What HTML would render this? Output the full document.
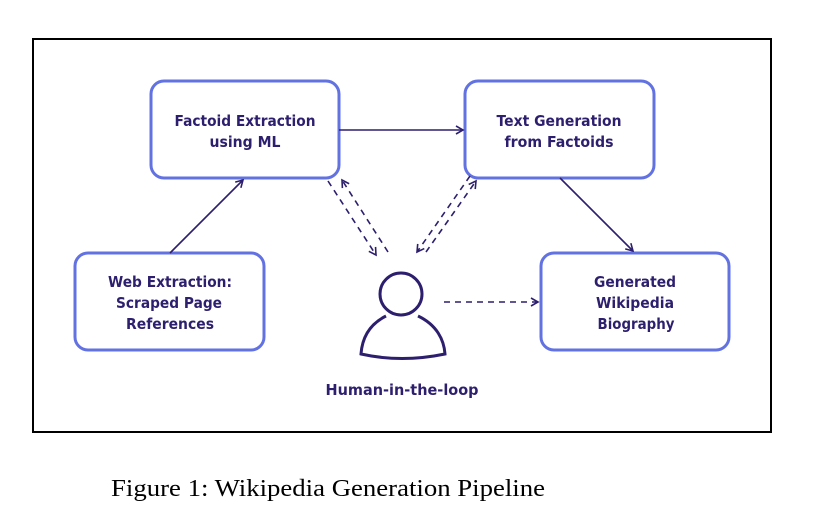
<!DOCTYPE html>
<html><head><meta charset="utf-8"><style>
html,body{margin:0;padding:0;background:#fff;width:828px;height:528px;overflow:hidden}
svg{display:block}
.t{font-family:"DejaVu Sans","Liberation Sans",sans-serif;font-size:15px;font-weight:bold;fill:#2e1f6e;text-anchor:middle}
</style></head><body>
<svg width="828" height="528" viewBox="0 0 828 528" xmlns="http://www.w3.org/2000/svg">
<defs>
<marker id="a" markerWidth="10" markerHeight="10" refX="8" refY="5" orient="auto" markerUnits="userSpaceOnUse">
<path d="M1,1 L8,5 L1,9" fill="none" stroke="#2e1f6e" stroke-width="1.6"/>
</marker>
</defs>
<rect x="33" y="39" width="738" height="393" fill="none" stroke="#000" stroke-width="2"/>
<g fill="#fff" stroke="#6272e0" stroke-width="3">
<rect x="151" y="81" width="188" height="97" rx="13"/>
<rect x="465" y="81" width="189" height="97" rx="13"/>
<rect x="75" y="253" width="189" height="97" rx="13"/>
<rect x="541" y="253" width="188" height="97" rx="13"/>
</g>
<g stroke="#2e1f6e" stroke-width="1.6" fill="none" marker-end="url(#a)">
<line x1="339" y1="130" x2="463" y2="130"/>
<line x1="170" y1="253" x2="243" y2="180"/>
<line x1="560" y1="178" x2="633" y2="251"/>
<g stroke-dasharray="6,5">
<line x1="328" y1="181" x2="376" y2="255"/>
<line x1="388" y1="252" x2="342" y2="180"/>
<line x1="470" y1="176" x2="417" y2="252"/>
<line x1="426" y1="252" x2="476" y2="181"/>
<line x1="444" y1="302" x2="538" y2="302"/>
</g>
</g>
<g stroke="#2e1f6e" stroke-width="3" fill="none">
<circle cx="401" cy="294" r="21"/>
<path d="M386,316 C368,325 362,340 361,354 C388,360 416,360 445,354 C444,340 437,325 418,316"/>
</g>
<g class="t">
<text class="t" x="245" y="126" textLength="141" lengthAdjust="spacingAndGlyphs">Factoid Extraction</text>
<text class="t" x="245" y="147" textLength="71" lengthAdjust="spacingAndGlyphs">using ML</text>
<text class="t" x="559" y="126" textLength="125" lengthAdjust="spacingAndGlyphs">Text Generation</text>
<text class="t" x="559" y="147" textLength="109" lengthAdjust="spacingAndGlyphs">from Factoids</text>
<text class="t" x="170" y="287" textLength="124" lengthAdjust="spacingAndGlyphs">Web Extraction:</text>
<text class="t" x="169" y="308" textLength="106" lengthAdjust="spacingAndGlyphs">Scraped Page</text>
<text class="t" x="170" y="329" textLength="88" lengthAdjust="spacingAndGlyphs">References</text>
<text class="t" x="635" y="287" textLength="82" lengthAdjust="spacingAndGlyphs">Generated</text>
<text class="t" x="635" y="308" textLength="78" lengthAdjust="spacingAndGlyphs">Wikipedia</text>
<text class="t" x="636" y="329" textLength="77" lengthAdjust="spacingAndGlyphs">Biography</text>
<text class="t" x="402" y="395" textLength="153" lengthAdjust="spacingAndGlyphs">Human-in-the-loop</text>
</g>
<text x="111" y="496" font-family="'Liberation Serif',serif" font-size="24" fill="#000" textLength="434" lengthAdjust="spacingAndGlyphs">Figure 1:  Wikipedia Generation Pipeline</text>
</svg>
</body></html>
